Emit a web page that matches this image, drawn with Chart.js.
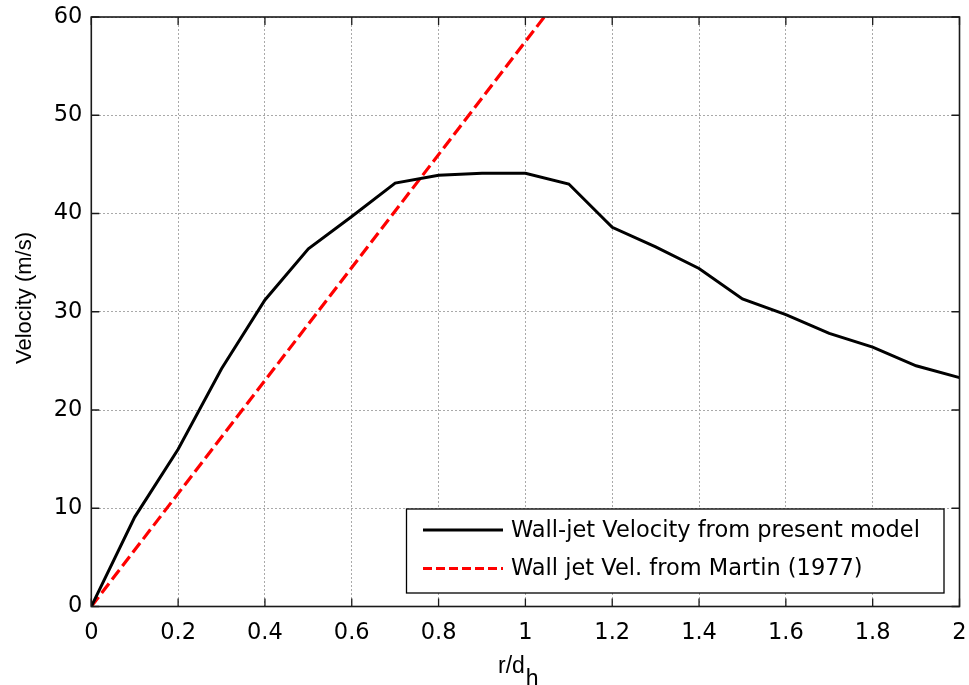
<!DOCTYPE html>
<html>
<head>
<meta charset="utf-8">
<script src="https://cdn.jsdelivr.net/npm/chart.js@4/dist/chart.umd.min.js"></script>
<style>
  html, body { margin: 0; padding: 0; background: #fff; }
  #wrap { width: 969px; height: 685px; }
</style>
</head>
<body>
<div id="wrap"><canvas id="c" width="969" height="685"></canvas></div>
<script>
// ---- data ----
const rOverD = [0, 0.1, 0.2, 0.3, 0.4, 0.5, 0.6, 0.7, 0.8, 0.9, 1.0, 1.1, 1.2, 1.3, 1.4, 1.5, 1.6, 1.7, 1.8, 1.9, 2.0];
const wallJetModel = [0, 9.1, 16.0, 24.2, 31.2, 36.4, 39.7, 43.1, 43.9, 44.1, 44.1, 43.0, 38.6, 36.6, 34.4, 31.3, 29.7, 27.8, 26.4, 24.5, 23.3];
const martinR = [0, 1.0, 2.0];
const martinVel = [0, 57.5, 115.0];
const seriesLabels = ['Wall-jet Velocity from present model', 'Wall jet Vel. from Martin (1977)'];
const xTicks = [0, 0.2, 0.4, 0.6, 0.8, 1.0, 1.2, 1.4, 1.6, 1.8, 2.0];
const xTickLabels = ['0', '0.2', '0.4', '0.6', '0.8', '1', '1.2', '1.4', '1.6', '1.8', '2'];
const yTicks = [0, 10, 20, 30, 40, 50, 60];
const yTickLabels = ['0', '10', '20', '30', '40', '50', '60'];
const yTitle = 'Velocity (m/s)';
const xTitleMain = 'r/d';
const xTitleSub = 'h';

const TICK_FONT = { family: '"DejaVu Sans", sans-serif', size: 22.5 };

const framePlugin = {
  id: 'matlabFrame',
  afterDatasetsDraw(chart) {
    const ctx = chart.ctx;
    const a = chart.chartArea;
    const xs = chart.scales.x, ys = chart.scales.y;
    ctx.save();
    // inner tick marks on all four sides
    ctx.strokeStyle = '#1a1a1a';
    ctx.lineWidth = 1.3;
    const tl = 8;
    ctx.beginPath();
    xTicks.forEach(v => {
      const px = xs.getPixelForValue(v);
      ctx.moveTo(px, a.bottom); ctx.lineTo(px, a.bottom - tl);
      ctx.moveTo(px, a.top); ctx.lineTo(px, a.top + tl);
    });
    yTicks.forEach(v => {
      const py = ys.getPixelForValue(v);
      ctx.moveTo(a.left, py); ctx.lineTo(a.left + tl, py);
      ctx.moveTo(a.right, py); ctx.lineTo(a.right - tl, py);
    });
    ctx.stroke();
    // axes box
    ctx.strokeStyle = '#1a1a1a';
    ctx.lineWidth = 1.6;
    ctx.strokeRect(a.left, a.top, a.right - a.left, a.bottom - a.top);

    // legend box
    const lx = 406.5, ly = 509, lw = 537.5, lh = 84;
    ctx.fillStyle = '#fff';
    ctx.fillRect(lx, ly, lw, lh);
    ctx.strokeStyle = '#000';
    ctx.lineWidth = 1.3;
    ctx.strokeRect(lx, ly, lw, lh);
    const rows = [530, 568.5];
    chart.data.datasets.forEach((ds, i) => {
      const y = rows[i];
      ctx.beginPath();
      ctx.strokeStyle = ds.borderColor;
      ctx.lineWidth = ds.borderWidth;
      ctx.setLineDash(i === 1 ? [9, 4] : []);
      ctx.moveTo(423, y); ctx.lineTo(503, y);
      ctx.stroke();
      ctx.setLineDash([]);
      ctx.fillStyle = '#000';
      ctx.font = '22.5px "DejaVu Sans", sans-serif';
      ctx.textBaseline = 'middle';
      ctx.textAlign = 'left';
      ctx.fillText(ds.label, 511, y + 1);
    });

    // axis titles
    ctx.fillStyle = '#000';
    ctx.font = '23px "Liberation Sans", Arial, sans-serif';
    ctx.textBaseline = 'alphabetic';
    ctx.textAlign = 'left';
    ctx.fillText(xTitleMain, 498, 673);
    const w = ctx.measureText(xTitleMain).width;
    ctx.fillText(xTitleSub, 498 + w + 1, 686);

    ctx.translate(25, 298);
    ctx.rotate(-Math.PI / 2);
    ctx.font = '22px "Liberation Sans", Arial, sans-serif';
    ctx.textAlign = 'center';
    ctx.textBaseline = 'middle';
    ctx.fillText(yTitle, 0, 0);
    ctx.restore();
  }
};

new Chart(document.getElementById('c'), {
  type: 'line',
  data: {
    datasets: [
      {
        label: seriesLabels[0],
        data: rOverD.map((r, i) => ({ x: r, y: wallJetModel[i] })),
        borderColor: '#000000',
        borderWidth: 3,
        pointRadius: 0,
        tension: 0,
        fill: false
      },
      {
        label: seriesLabels[1],
        data: martinR.map((r, i) => ({ x: r, y: martinVel[i] })),
        borderColor: '#ff0000',
        borderWidth: 3.2,
        borderDash: [12, 5],
        pointRadius: 0,
        tension: 0,
        fill: false
      }
    ]
  },
  options: {
    responsive: false,
    animation: false,
    devicePixelRatio: 1,
    layout: { padding: { top: 17, right: 9.5, left: 0, bottom: 0 } },
    plugins: { legend: { display: false }, tooltip: { enabled: false } },
    scales: {
      x: {
        type: 'linear',
        min: 0, max: 2,
        afterBuildTicks: s => { s.ticks = xTicks.map(v => ({ value: v })); },
        afterFit: s => { s.height = 78.5; s.paddingLeft = 0; s.paddingRight = 0; },
        ticks: {
          autoSkip: false,
          maxRotation: 0,
          padding: 13,
          color: '#000',
          font: TICK_FONT,
          callback: (v, i) => xTickLabels[i]
        },
        grid: { color: '#a9a9a9', lineWidth: 1, drawTicks: false },
        border: { display: false, dash: [2, 2] }
      },
      y: {
        type: 'linear',
        min: 0, max: 60,
        afterBuildTicks: s => { s.ticks = yTicks.map(v => ({ value: v })); },
        afterFit: s => { s.width = 91.3; s.paddingTop = 0; s.paddingBottom = 0; },
        ticks: {
          autoSkip: false,
          padding: 9,
          color: '#000',
          font: TICK_FONT,
          callback: (v, i) => yTickLabels[i]
        },
        grid: { color: '#a9a9a9', lineWidth: 1, drawTicks: false },
        border: { display: false, dash: [2, 2] }
      }
    }
  },
  plugins: [framePlugin]
});
</script>
</body>
</html>
